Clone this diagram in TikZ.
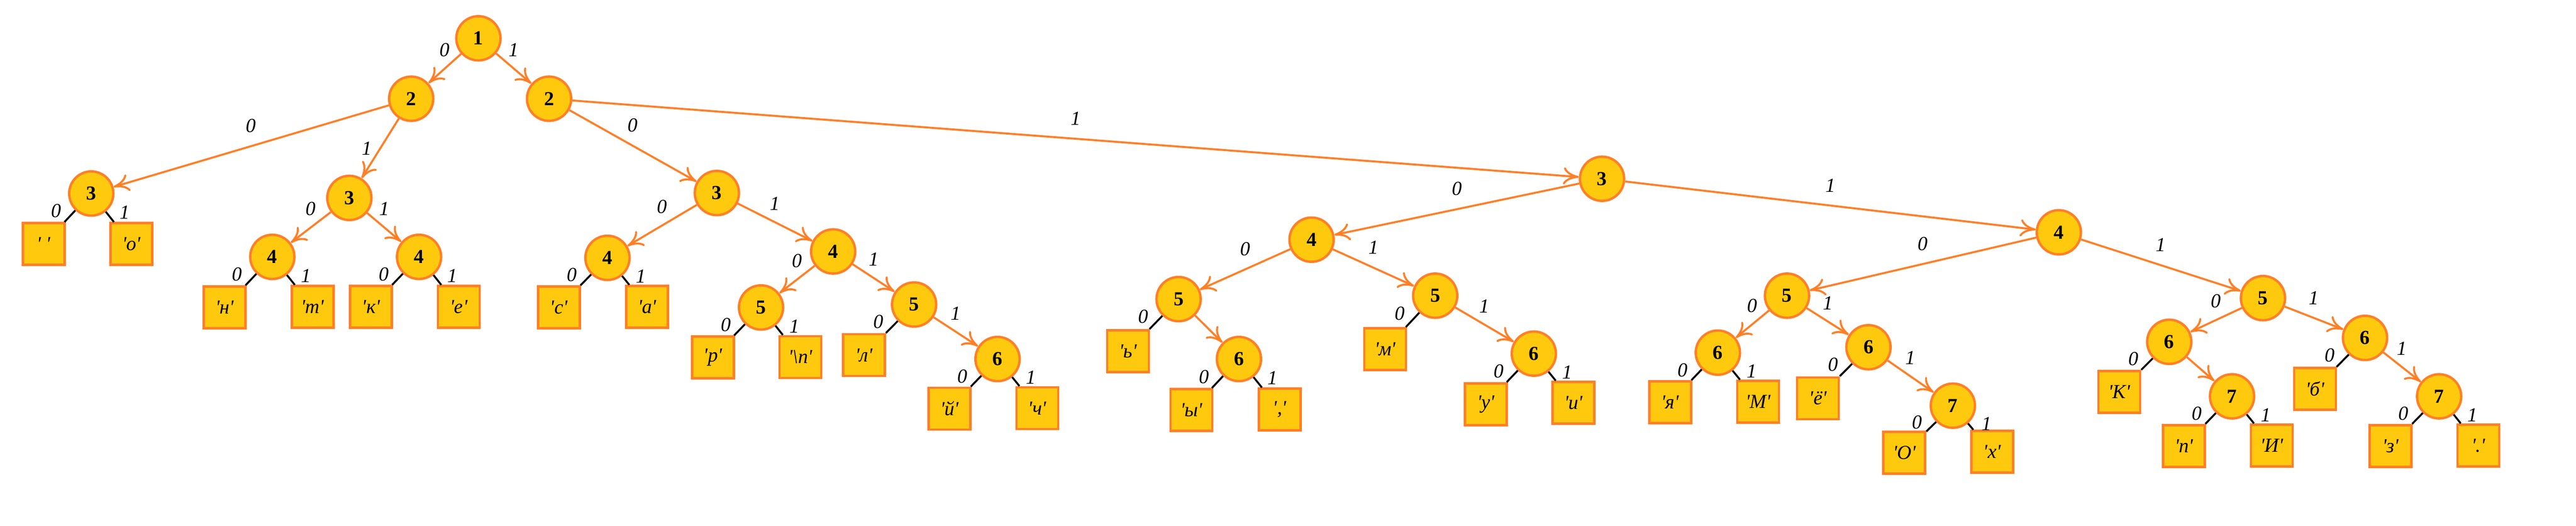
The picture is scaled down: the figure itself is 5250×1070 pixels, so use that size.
\documentclass[tikz,border=0pt]{standalone}
\usepackage{fontspec}
\newfontfamily\treefont{Liberation Serif}
\usetikzlibrary{arrows.meta}

\definecolor{huffyellow}{HTML}{FFC90E}
\definecolor{hufforange}{HTML}{FF7F27}

\begin{document}
\begin{tikzpicture}[x=0.01cm,y=-0.01cm]
\tikzstyle{vertex}=[circle,draw=hufforange,fill=huffyellow,line width=1.4pt,minimum size=0.9cm,inner sep=0pt,font=\treefont\fontsize{11.5}{13}\selectfont\bfseries]
\tikzstyle{leafbox}=[rectangle,draw=hufforange,fill=huffyellow,line width=1.4pt,minimum size=0.85cm,inner sep=0pt,font=\treefont\fontsize{11.5}{13}\selectfont\itshape]
\tikzstyle{branch}=[draw=hufforange,line width=1.15pt,-{To[length=9pt,width=10pt]}]
\tikzstyle{twig}=[draw=black,line width=1.1pt]
\tikzstyle{bit}=[font=\treefont\fontsize{11.5}{13}\selectfont\itshape]
\useasboundingbox (0,0) rectangle (5250,1070);
% inner nodes
\node[vertex] (1) at (975,78) {1};
\node[vertex] (2) at (838,201) {2};
\node[vertex] (3) at (1119,201) {2};
\node[vertex] (4) at (186,394) {3};
\node[vertex] (5) at (712,403) {3};
\node[vertex] (6) at (555,523) {4};
\node[vertex] (7) at (854,523) {4};
\node[vertex] (8) at (1461,393) {3};
\node[vertex] (9) at (1238,525) {4};
\node[vertex] (10) at (1698,512) {4};
\node[vertex] (11) at (1551,626) {5};
\node[vertex] (12) at (1863,620) {5};
\node[vertex] (13) at (2033,731) {6};
\node[vertex] (14) at (3265,364) {3};
\node[vertex] (15) at (2673,488) {4};
\node[vertex] (16) at (2402,609) {5};
\node[vertex] (17) at (2525,731) {6};
\node[vertex] (18) at (2925,602) {5};
\node[vertex] (19) at (3126,720) {6};
\node[vertex] (20) at (4196,473) {4};
\node[vertex] (21) at (3642,602) {5};
\node[vertex] (22) at (3501,718) {6};
\node[vertex] (23) at (3808,707) {6};
\node[vertex] (24) at (3980,826) {7};
\node[vertex] (25) at (4612,607) {5};
\node[vertex] (26) at (4421,696) {6};
\node[vertex] (27) at (4549,807) {7};
\node[vertex] (28) at (4820,688) {6};
\node[vertex] (29) at (4971,807) {7};
% leaves
\node[leafbox] (31) at (89,497) {' '};
\node[leafbox] (32) at (268,497) {'о'};
\node[leafbox] (33) at (458,626) {'н'};
\node[leafbox] (34) at (637,625) {'т'};
\node[leafbox] (35) at (756,625) {'к'};
\node[leafbox] (36) at (935,625) {'е'};
\node[leafbox] (37) at (1139,626) {'с'};
\node[leafbox] (38) at (1319,625) {'а'};
\node[leafbox] (39) at (1453,728) {'р'};
\node[leafbox] (40) at (1631,727) {'\textbackslash{}n'};
\node[leafbox] (41) at (1761,723) {'л'};
\node[leafbox] (42) at (1935,832) {'й'};
\node[leafbox] (43) at (2114,831) {'ч'};
\node[leafbox] (44) at (2299,715) {'ь'};
\node[leafbox] (45) at (2428,835) {'ы'};
\node[leafbox] (46) at (2608,834) {','};
\node[leafbox] (47) at (2823,711) {'м'};
\node[leafbox] (48) at (3028,823) {'у'};
\node[leafbox] (49) at (3207,820) {'и'};
\node[leafbox] (50) at (3404,819) {'я'};
\node[leafbox] (51) at (3583,818) {'М'};
\node[leafbox] (52) at (3705,811) {'ё'};
\node[leafbox] (53) at (3881,922) {'О'};
\node[leafbox] (54) at (4060,920) {'х'};
\node[leafbox] (55) at (4319,798) {'К'};
\node[leafbox] (56) at (4451,908) {'п'};
\node[leafbox] (57) at (4630,907) {'И'};
\node[leafbox] (58) at (4718,792) {'б'};
\node[leafbox] (59) at (4872,908) {'з'};
\node[leafbox] (60) at (5051,907) {'.'};
% arrows between inner nodes
\draw[branch] (1) -- node[bit,above=3pt]{0} (2);
\draw[branch] (1) -- node[bit,above=3pt]{1} (3);
\draw[branch] (2) -- node[bit,above=4pt]{0} (4);
\draw[branch] (2) -- node[bit,left=1pt]{1} (5);
\draw[branch] (5) -- node[bit,above=3pt]{0} (6);
\draw[branch] (5) -- node[bit,above=3pt]{1} (7);
\draw[branch] (3) -- node[bit,above=4pt]{0} (8);
\draw[branch] (3) -- node[bit,above=4pt]{1} (14);
\draw[branch] (8) -- node[bit,above=3pt]{0} (9);
\draw[branch] (8) -- node[bit,above=3pt]{1} (10);
\draw[branch] (10) -- node[bit,above=3pt]{0} (11);
\draw[branch] (10) -- node[bit,above=3pt]{1} (12);
\draw[branch] (12) -- node[bit,above=3pt]{1} (13);
\draw[branch] (14) -- node[bit,above=4pt]{0} (15);
\draw[branch] (14) -- node[bit,above=4pt]{1} (20);
\draw[branch] (15) -- node[bit,above=4pt]{0} (16);
\draw[branch] (15) -- node[bit,above=4pt]{1} (18);
\draw[branch] (16) -- (17);
\draw[branch] (18) -- node[bit,above=3pt]{1} (19);
\draw[branch] (20) -- node[bit,above=4pt]{0} (21);
\draw[branch] (20) -- node[bit,above=4pt]{1} (25);
\draw[branch] (21) -- node[bit,above=3pt]{0} (22);
\draw[branch] (21) -- node[bit,above=3pt]{1} (23);
\draw[branch] (23) -- node[bit,above=3pt]{1} (24);
\draw[branch] (25) -- node[bit,above=3pt]{0} (26);
\draw[branch] (25) -- node[bit,above=4pt]{1} (28);
\draw[branch] (26) -- (27);
\draw[branch] (28) -- node[bit,above=3pt]{1} (29);
% lines to leaves
\draw[twig] (4) -- node[bit,pos=0.05,left=4pt]{0} (31);
\draw[twig] (4) -- node[bit,pos=0.05,right=4pt]{1} (32);
\draw[twig] (6) -- node[bit,pos=0.05,left=4pt]{0} (33);
\draw[twig] (6) -- node[bit,pos=0.05,right=4pt]{1} (34);
\draw[twig] (7) -- node[bit,pos=0.05,left=4pt]{0} (35);
\draw[twig] (7) -- node[bit,pos=0.05,right=4pt]{1} (36);
\draw[twig] (9) -- node[bit,pos=0.05,left=4pt]{0} (37);
\draw[twig] (9) -- node[bit,pos=0.05,right=4pt]{1} (38);
\draw[twig] (11) -- node[bit,pos=0.05,left=4pt]{0} (39);
\draw[twig] (11) -- node[bit,pos=0.05,right=4pt]{1} (40);
\draw[twig] (12) -- node[bit,pos=0.05,left=4pt]{0} (41);
\draw[twig] (13) -- node[bit,pos=0.05,left=4pt]{0} (42);
\draw[twig] (13) -- node[bit,pos=0.05,right=4pt]{1} (43);
\draw[twig] (16) -- node[bit,pos=0.05,left=4pt]{0} (44);
\draw[twig] (17) -- node[bit,pos=0.05,left=4pt]{0} (45);
\draw[twig] (17) -- node[bit,pos=0.05,right=4pt]{1} (46);
\draw[twig] (18) -- node[bit,pos=0.05,left=4pt]{0} (47);
\draw[twig] (19) -- node[bit,pos=0.05,left=4pt]{0} (48);
\draw[twig] (19) -- node[bit,pos=0.05,right=4pt]{1} (49);
\draw[twig] (22) -- node[bit,pos=0.05,left=4pt]{0} (50);
\draw[twig] (22) -- node[bit,pos=0.05,right=4pt]{1} (51);
\draw[twig] (23) -- node[bit,pos=0.05,left=4pt]{0} (52);
\draw[twig] (24) -- node[bit,pos=0.05,left=4pt]{0} (53);
\draw[twig] (24) -- node[bit,pos=0.05,right=4pt]{1} (54);
\draw[twig] (26) -- node[bit,pos=0.05,left=4pt]{0} (55);
\draw[twig] (27) -- node[bit,pos=0.05,left=4pt]{0} (56);
\draw[twig] (27) -- node[bit,pos=0.05,right=4pt]{1} (57);
\draw[twig] (28) -- node[bit,pos=0.05,left=4pt]{0} (58);
\draw[twig] (29) -- node[bit,pos=0.05,left=4pt]{0} (59);
\draw[twig] (29) -- node[bit,pos=0.05,right=4pt]{1} (60);
\end{tikzpicture}
\end{document}
